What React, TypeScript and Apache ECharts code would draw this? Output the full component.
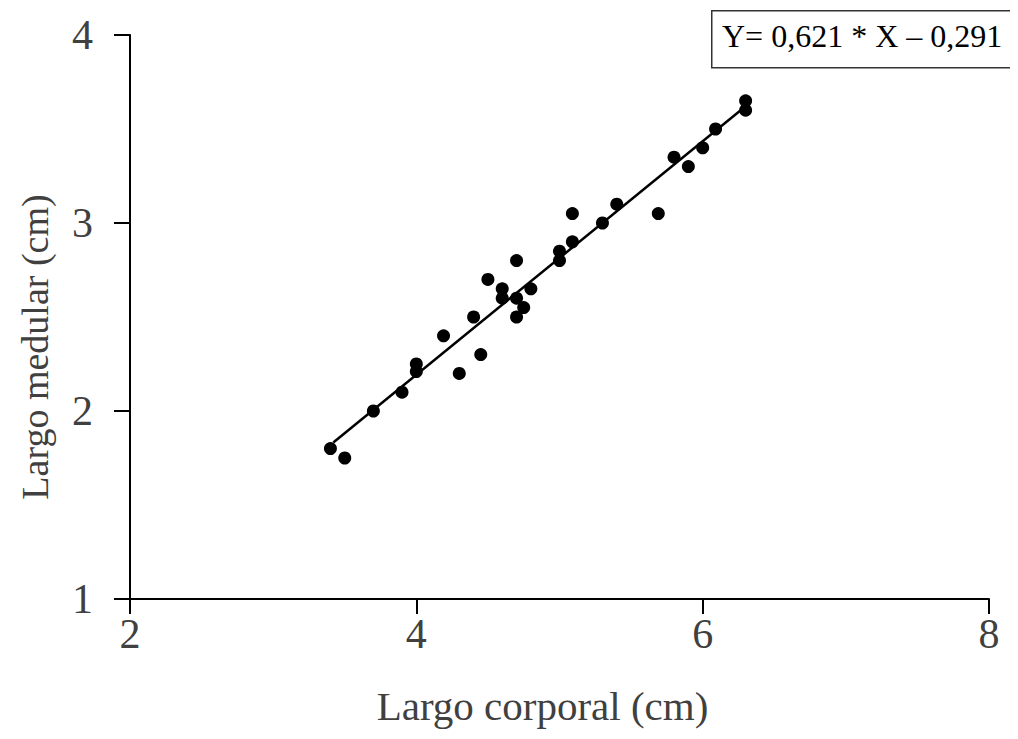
import React, { useEffect, useRef } from "react";
import * as echarts from "echarts";

const xValues = [3.4, 3.5, 3.7, 3.9, 4.0, 4.0, 4.19, 4.3, 4.4, 4.45, 4.5, 4.6, 4.6, 4.7, 4.7, 4.7, 4.75, 4.8, 5.0, 5.0, 5.09, 5.09, 5.3, 5.4, 5.69, 5.8, 5.9, 6.0, 6.09, 6.3, 6.3];
const yValues = [1.8, 1.75, 2.0, 2.1, 2.21, 2.25, 2.4, 2.2, 2.5, 2.3, 2.7, 2.65, 2.6, 2.8, 2.6, 2.5, 2.55, 2.65, 2.8, 2.85, 2.9, 3.05, 3.0, 3.1, 3.05, 3.35, 3.3, 3.4, 3.5, 3.65, 3.6];
const slope = 0.621;
const intercept = -0.291;
const lineRange = [3.42, 6.3];
const equationText = "Y= 0,621 * X \u2013 0,291";
const xTicks = [2, 4, 6, 8];
const yTicks = [1, 2, 3, 4];

export default function App() {
  const ref = useRef<HTMLDivElement>(null);
  useEffect(() => {
    if (!ref.current) return;
    const chart = echarts.init(ref.current, null, { renderer: "svg" });
    const font = "'Liberation Serif', 'DejaVu Serif', serif";
    const points = xValues.map((x, i) => [x, yValues[i]]);
    const linePts = lineRange.map((x) => [x, slope * x + intercept]);
    chart.setOption({
      animation: false,
      backgroundColor: "#ffffff",
      grid: { left: 121, right: 21, top: 27, bottom: 121, containLabel: false },
      xAxis: {
        type: "value",
        min: xTicks[0],
        max: xTicks[xTicks.length - 1],
        interval: 2,
        name: "Largo corporal (cm)",
        nameLocation: "middle",
        nameGap: 86,
        nameTextStyle: { fontFamily: font, fontSize: 41, color: "#404040", padding: [0, 34, 0, 0] },
        axisLine: { lineStyle: { color: "#000", width: 2 } },
        axisTick: { show: true, length: 15, lineStyle: { color: "#000", width: 2 } },
        axisLabel: { fontFamily: font, fontSize: 42, color: "#404040", margin: 14 },
        splitLine: { show: false },
      },
      yAxis: {
        type: "value",
        min: yTicks[0],
        max: yTicks[yTicks.length - 1],
        interval: 1,
        name: "Largo medular (cm)",
        nameLocation: "middle",
        nameGap: 76,
        nameRotate: 90,
        nameTextStyle: { fontFamily: font, fontSize: 38, color: "#404040", padding: [0, 60, 0, 0] },
        axisLine: { lineStyle: { color: "#000", width: 2 } },
        axisTick: { show: true, length: 16, lineStyle: { color: "#000", width: 2 } },
        axisLabel: { fontFamily: font, fontSize: 42, color: "#404040", margin: 37 },
        splitLine: { show: false },
      },
      series: [
        {
          type: "scatter",
          data: points,
          symbol: "circle",
          symbolSize: 13,
          itemStyle: { color: "#000", opacity: 1 },
          z: 3,
        },
        {
          type: "line",
          data: linePts,
          symbol: "none",
          lineStyle: { color: "#000", width: 2.5 },
          z: 2,
        },
      ],
      graphic: [
        {
          type: "rect",
          left: 703,
          top: 2,
          shape: { width: 301, height: 57 },
          style: { fill: "#fff", stroke: "#333", lineWidth: 1.5 },
        },
        {
          type: "text",
          left: 714,
          top: 12,
          style: { text: equationText, fontFamily: font, fontSize: 32, fill: "#000" },
        },
      ],
    });
    return () => chart.dispose();
  }, []);
  return <div ref={ref} style={{ width: 1002, height: 723 }} />;
}
